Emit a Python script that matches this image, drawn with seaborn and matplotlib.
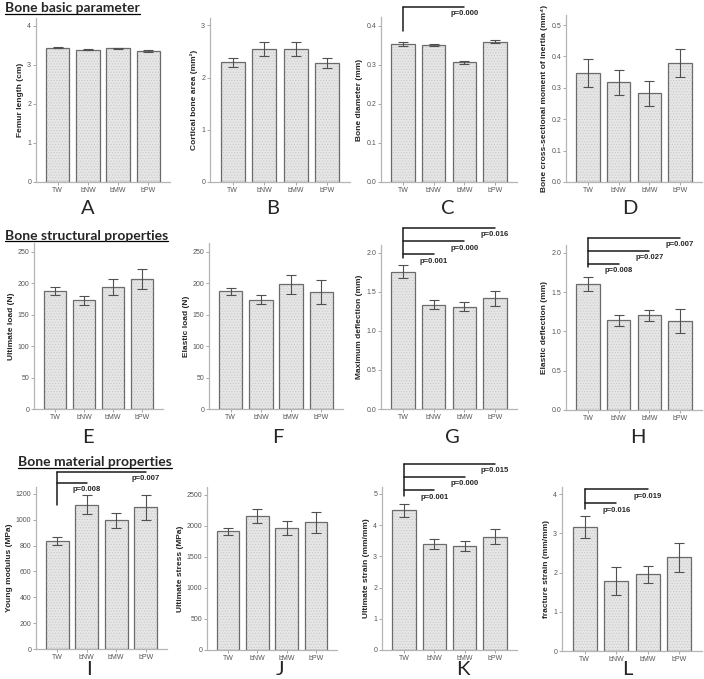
import matplotlib
matplotlib.use("Agg")
import matplotlib.pyplot as plt
import numpy as np
import pandas as pd
import seaborn as sns
from matplotlib.lines import Line2D
from matplotlib.patches import Rectangle
from matplotlib.ticker import FormatStrFormatter, MultipleLocator

sns.set_theme(style="white")
plt.rcParams["font.family"] = ["Liberation Sans", "DejaVu Sans"]
plt.rcParams["hatch.linewidth"] = 0.5

groups = ["TW", "bNW", "bMW", "bPW"]

femur_length = [3.44, 3.39, 3.42, 3.35]
femur_length_se = [0.02, 0.015, 0.02, 0.02]
cortical_area = [2.29, 2.55, 2.55, 2.28]
cortical_area_se = [0.09, 0.13, 0.13, 0.09]
bone_diameter = [0.353, 0.352, 0.307, 0.360]
bone_diameter_se = [0.005, 0.003, 0.004, 0.003]
inertia = [0.348, 0.317, 0.282, 0.380]
inertia_se = [0.045, 0.039, 0.039, 0.045]
ultimate_load = [188, 173, 194, 207]
ultimate_load_se = [6.5, 7, 12.5, 16]
elastic_load = [187, 174, 198, 186]
elastic_load_se = [6, 7.5, 15, 19]
max_deflection = [1.757, 1.336, 1.31, 1.417]
max_deflection_se = [0.083, 0.06, 0.055, 0.094]
elastic_deflection = [1.604, 1.14, 1.204, 1.136]
elastic_deflection_se = [0.09, 0.07, 0.07, 0.15]
young_modulus = [833, 1117, 996, 1096]
young_modulus_se = [31, 72, 58, 94]
ultimate_stress = [1914, 2161, 1973, 2059]
ultimate_stress_se = [54, 116, 113, 167]
ultimate_strain = [4.48, 3.39, 3.33, 3.62]
ultimate_strain_se = [0.21, 0.16, 0.15, 0.24]
fracture_strain = [3.15, 1.79, 1.95, 2.39]
fracture_strain_se = [0.28, 0.36, 0.21, 0.37]

ylabels = [
    "Femur length (cm)", "Cortical bone area (mm²)", "Bone diameter (mm)",
    "Bone cross-sectional moment of inertia (mm⁴)",
    "Ultimate load (N)", "Elastic load (N)", "Maximum deflection (mm)", "Elastic deflection (mm)",
    "Young modulus (MPa)", "Ultimate stress (MPa)", "Ultimate strain (mm/mm)", "fracture strain (mm/mm)",
]
letters = list("ABCDEFGHIJKL")
sections = ["Bone basic parameter", "Bone structural properties", "Bone material properties"]

# comparisons against TW: (group, p label)
sig_C = [("bMW", "p=0.000")]
sig_G = [("bNW", "p=0.001"), ("bMW", "p=0.000"), ("bPW", "p=0.016")]
sig_H = [("bNW", "p=0.008"), ("bMW", "p=0.027"), ("bPW", "p=0.007")]
sig_I = [("bNW", "p=0.008"), ("bPW", "p=0.007")]
sig_K = [("bNW", "p=0.001"), ("bMW", "p=0.000"), ("bPW", "p=0.015")]
sig_L = [("bNW", "p=0.016"), ("bMW", "p=0.019")]

W, H = 704, 679

# layout: pixel box (left, right, top, bottom), ymax, tick step, tick fmt
panels = [
    (femur_length, femur_length_se, (36, 170, 18, 182), 4.2, 1, "%d"),
    (cortical_area, cortical_area_se, (210, 350, 18, 182), 3.14, 1, "%d"),
    (bone_diameter, bone_diameter_se, (381, 517, 17, 182), 0.423, 0.1, "%.1f"),
    (inertia, inertia_se, (566, 702, 15, 182), 0.532, 0.1, "%.1f"),
    (ultimate_load, ultimate_load_se, (34, 163, 243, 409), 264, 50, "%d"),
    (elastic_load, elastic_load_se, (209, 343, 243, 409), 264, 50, "%d"),
    (max_deflection, max_deflection_se, (381, 517, 245, 409), 2.1, 0.5, "%.1f"),
    (elastic_deflection, elastic_deflection_se, (566, 702, 245, 410), 2.1, 0.5, "%.1f"),
    (young_modulus, young_modulus_se, (36, 167, 487, 649), 1254, 200, "%d"),
    (ultimate_stress, ultimate_stress_se, (207, 337, 487, 650), 2629, 500, "%d"),
    (ultimate_strain, ultimate_strain_se, (382, 517, 487, 650), 5.22, 1, "%d"),
    (fracture_strain, fracture_strain_se, (562, 702, 487, 651), 4.18, 1, "%d"),
]

# bracket layout: panel index -> (comparisons, first line y, step, vertical bottom)
brackets = {
    2: (sig_C, 0.449, 0.0, 0.387),
    6: (sig_G, 1.98, 0.17, 1.93),
    7: (sig_H, 1.86, 0.165, 1.82),
    8: (sig_I, 1288, 82, 1112),
    10: (sig_K, 5.11, 0.43, 4.93),
    11: (sig_L, 3.76, 0.36, 3.63),
}

# letter baselines in pixels
letter_pos = [(88, 214), (273, 214), (448, 214), (630, 214),
              (88, 443), (278, 443), (452, 443), (638, 443),
              (89, 675), (280, 675), (463, 675), (627, 675)]
section_pos = [(5, 8), (5, 236), (18, 462)]

fig = plt.figure(figsize=(W / 100, H / 100), dpi=100)

for i, (vals, errs, box, ymax, step, fmt) in enumerate(panels):
    l, r, t, b = box
    ax = fig.add_axes([l / W, 1 - b / H, (r - l) / W, (b - t) / H])
    df = pd.DataFrame({"group": groups, "value": vals})
    sns.barplot(data=df, x="group", y="value", ax=ax, color="#e6e6e6",
                saturation=1, width=0.77, errorbar=None)
    for patch in list(ax.patches):
        patch.set_hatch("......")
        patch.set_edgecolor("#c9c9c9")
        patch.set_linewidth(0)
        ax.add_patch(Rectangle(patch.get_xy(), patch.get_width(), patch.get_height(),
                               fill=False, edgecolor="#6b6b6b", lw=0.9, zorder=3))
    ax.errorbar(np.arange(len(groups)), vals, yerr=errs, fmt="none", ecolor="#505050",
                elinewidth=0.8, capsize=3.6, capthick=0.8, zorder=4)

    ax.set_xlim(-0.72, 3.72)
    ax.set_ylim(0, ymax)
    ax.yaxis.set_major_locator(MultipleLocator(step))
    ax.yaxis.set_major_formatter(FormatStrFormatter(fmt))
    ax.set_xlabel("")
    ax.set_ylabel(ylabels[i], fontsize=6, fontweight="bold", labelpad=2)
    for side in ["top", "right"]:
        ax.spines[side].set_visible(False)
    for side in ["left", "bottom"]:
        ax.spines[side].set_color("#b5b5b5")
        ax.spines[side].set_linewidth(0.9)
    ax.tick_params(axis="both", labelsize=5, colors="#9a9a9a", labelcolor="#555555",
                   length=2, width=0.6, pad=1.5, left=True, bottom=True)

    if i in brackets:
        sig, first, dy, vbottom = brackets[i]
        top = first + dy * (len(sig) - 1)
        ax.plot([0, 0], [vbottom, top], color="#1a1a1a", lw=1.1, clip_on=False, zorder=5)
        for k, (grp, label) in enumerate(sig):
            y = first + dy * k
            xe = groups.index(grp)
            ax.plot([0, xe], [y, y], color="#1a1a1a", lw=1.1, clip_on=False, zorder=5)
            ax.annotate(label, (xe, y), xytext=(0, -5), textcoords="offset points",
                        ha="center", va="center", fontsize=5.5, fontweight="bold",
                        annotation_clip=False)

    lx, ly = letter_pos[i]
    fig.text(lx / W, 1 - ly / H, letters[i], fontsize=14.5, family=["Lato", "DejaVu Sans"],
             ha="center", va="baseline")

titles = []
for name, (sx, sy) in zip(sections, section_pos):
    titles.append(fig.text(sx / W, 1 - sy / H, name, fontsize=10, fontweight="bold",
                           family=["Lato", "DejaVu Sans"], ha="left", va="center"))

fig.canvas.draw()
renderer = fig.canvas.get_renderer()
for txt in titles:
    bb = txt.get_window_extent(renderer)
    y = bb.y0 + 0.5
    fig.add_artist(Line2D([bb.x0 / W, bb.x1 / W], [y / H, y / H], color="black", lw=0.9,
                          transform=fig.transFigure))

fig.savefig("out.png", dpi=100)
